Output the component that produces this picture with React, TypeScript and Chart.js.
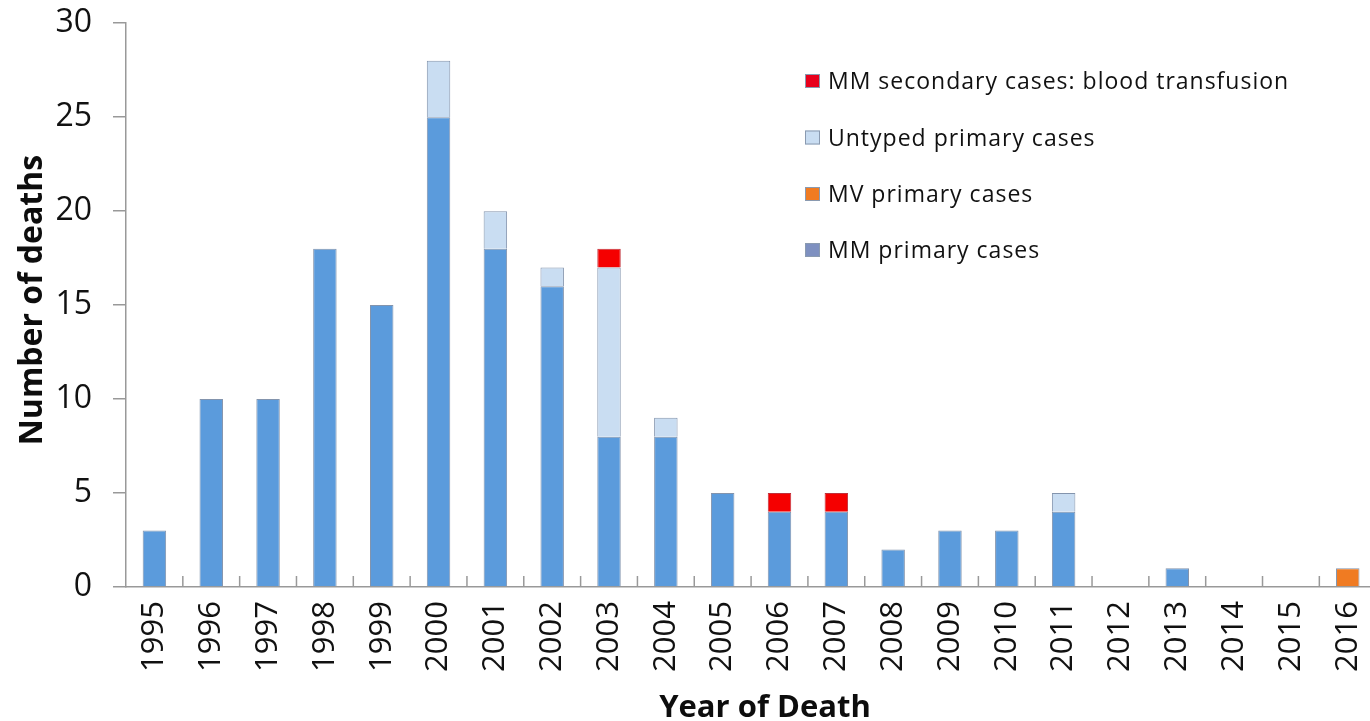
import React, { useEffect, useRef } from "react";
import { Chart, registerables } from "chart.js";

Chart.register(...registerables);

const years = [
  "1995", "1996", "1997", "1998", "1999", "2000", "2001", "2002", "2003", "2004", "2005",
  "2006", "2007", "2008", "2009", "2010", "2011", "2012", "2013", "2014", "2015", "2016",
];
const mmPrimary = [3, 10, 10, 18, 15, 25, 18, 16, 8, 8, 5, 4, 4, 2, 3, 3, 4, 0, 1, 0, 0, 0];
const mvPrimary = [0, 0, 0, 0, 0, 0, 0, 0, 0, 0, 0, 0, 0, 0, 0, 0, 0, 0, 0, 0, 0, 1];
const untypedPrimary = [0, 0, 0, 0, 0, 3, 2, 1, 9, 1, 0, 0, 0, 0, 0, 0, 1, 0, 0, 0, 0, 0];
const mmSecondary = [0, 0, 0, 0, 0, 0, 0, 0, 1, 0, 0, 1, 1, 0, 0, 0, 0, 0, 0, 0, 0, 0];

const seriesLabels = [
  "MM primary cases",
  "MV primary cases",
  "Untyped primary cases",
  "MM secondary cases: blood transfusion",
];
const seriesColors = ["#5b9bdc", "#f07b22", "#c9ddf2", "#f50000"];
const legendColors = ["#7e90c0", "#f07b22", "#c9ddf2", "#e8001c"];

const yTitle = "Number of deaths";
const xTitle = "Year of Death";

const FONT = "'Open Sans', 'DejaVu Sans', sans-serif";
const SHIFT = 17; // canvas is drawn taller and shifted up to place the plot top

const nz = (arr: number[]) => arr.map((v) => (v === 0 ? null : v));

const overlayPlugin = {
  id: "overlay",
  afterDraw(chart: any) {
    const ctx = chart.ctx as CanvasRenderingContext2D;
    const xs = chart.scales.x;
    const area = chart.chartArea;
    ctx.save();
    // inward tick marks on the category axis
    ctx.strokeStyle = "#999999";
    ctx.lineWidth = 1.5;
    const n = years.length;
    for (let i = 1; i <= n; i++) {
      const x = i < n
        ? (xs.getPixelForValue(i - 1) + xs.getPixelForValue(i)) / 2
        : area.right;
      ctx.beginPath();
      ctx.moveTo(x, area.bottom);
      ctx.lineTo(x, area.bottom - 11);
      ctx.stroke();
    }
    // axis titles
    ctx.fillStyle = "#0d0d0d";
    ctx.font = `bold 31px ${FONT}`;
    ctx.textAlign = "center";
    ctx.textBaseline = "alphabetic";
    ctx.fillText(xTitle, 765, 717 + SHIFT);
    ctx.save();
    ctx.translate(42, 300 + SHIFT);
    ctx.rotate(-Math.PI / 2);
    ctx.font = `bold 32px ${FONT}`;
    ctx.fillText(yTitle, 0, 0);
    ctx.restore();
    // legend (reverse order: top of stack first)
    ctx.font = `23px ${FONT}`;
    (ctx as any).letterSpacing = "1px";
    ctx.textAlign = "left";
    const baselines = [89, 145.5, 202, 258];
    for (let k = 0; k < 4; k++) {
      const idx = 3 - k;
      const b = baselines[k] + SHIFT;
      ctx.fillStyle = legendColors[idx];
      ctx.fillRect(805, b - 15, 15, 14);
      ctx.strokeStyle = "#8a9ab0";
      ctx.lineWidth = 1;
      ctx.strokeRect(805.5, b - 14.5, 14, 13);
      ctx.fillStyle = "#111111";
      ctx.fillText(seriesLabels[idx], 828, b);
    }
    (ctx as any).letterSpacing = "0px";
    ctx.restore();
  },
};

export default function App() {
  const ref = useRef<HTMLCanvasElement | null>(null);
  useEffect(() => {
    if (!ref.current) return;
    const dataArrays = [mmPrimary, mvPrimary, untypedPrimary, mmSecondary];
    const chart = new Chart(ref.current, {
      type: "bar",
      data: {
        labels: years,
        datasets: dataArrays.map((arr, i) => ({
          label: seriesLabels[i],
          data: nz(arr) as any,
          backgroundColor: seriesColors[i],
          borderColor: i === 3 ? "#c0303a" : "#8394ad",
          borderWidth: 1,
          categoryPercentage: 1,
          barPercentage: 0.413,
        })),
      },
      options: {
        responsive: false,
        animation: false,
        devicePixelRatio: 1,
        layout: { padding: { top: 6, right: 2, left: 0, bottom: 0 } },
        plugins: {
          legend: { display: false },
          tooltip: { enabled: false },
          title: { display: false },
        },
        scales: {
          x: {
            stacked: true,
            afterFit: (s: any) => {
              s.height = 134;
            },
            grid: { display: true, drawOnChartArea: false, drawTicks: false },
            border: { display: true, color: "#999999", width: 1.5 },
            ticks: {
              autoSkip: false,
              minRotation: 90,
              maxRotation: 90,
              padding: 14,
              color: "#111111",
              font: { family: FONT, size: 31 },
            },
          },
          y: {
            stacked: true,
            min: 0,
            max: 30,
            afterFit: (s: any) => {
              s.width = 126;
            },
            grid: { display: true, drawOnChartArea: false, drawTicks: true, tickLength: 13, color: "#999999", lineWidth: 1.5 },
            border: { display: true, color: "#999999", width: 1.5 },
            ticks: {
              stepSize: 5,
              padding: 21,
              color: "#111111",
              font: { family: FONT, size: 32 },
            },
          },
        },
      },
      plugins: [overlayPlugin],
    });
    return () => chart.destroy();
  }, []);

  return (
    <div
      style={{
        position: "absolute",
        left: 0,
        top: 0,
        width: 1370,
        height: 721,
        overflow: "hidden",
        background: "#ffffff",
      }}
    >
      <canvas
        ref={ref}
        width={1399}
        height={721 + SHIFT}
        style={{ position: "absolute", left: 0, top: -SHIFT, display: "block", width: 1399, height: 721 + SHIFT }}
      />
    </div>
  );
}
